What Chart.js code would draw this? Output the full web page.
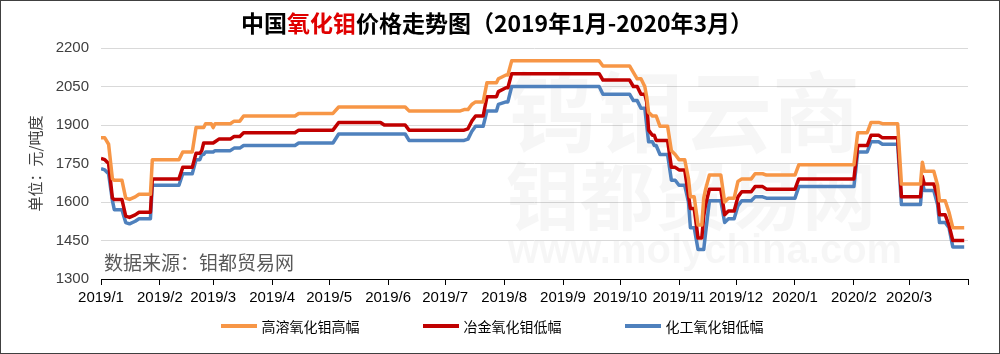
<!DOCTYPE html>
<html>
<head>
<meta charset="utf-8">
<script src="https://cdn.jsdelivr.net/npm/chart.js@4/dist/chart.umd.min.js"></script>
<style>
  html, body { margin: 0; padding: 0; background: #fff; }
  #wrap { position: relative; width: 1000px; height: 354px; overflow: hidden; font-family: "Noto Sans CJK SC", sans-serif; }
  #chart { position: absolute; left: 0; top: 0; }
  #frame { position: absolute; left: 0; top: 0; right: 0; bottom: 0; border: 1px solid #404040; pointer-events: none; }
  #title { position: absolute; left: 0; top: 5px; width: 994px; text-align: center; font-size: 23px; font-weight: bold; color: #000; line-height: 34px; }
  #title span { color: #e00000; }
  #source { position: absolute; left: 104px; top: 249px; font-size: 19px; line-height: 26px; color: #595959; }
  #legend { position: absolute; left: 0; top: 314px; width: 984px; display: flex; justify-content: center; gap: 63px; font-size: 14px; line-height: 24px; color: #000; }
  .item { display: flex; align-items: center; }
  .item i { display: inline-block; width: 36px; height: 4px; margin-right: 5px; }
</style>
</head>
<body>
<div id="wrap">
  <canvas id="chart" width="1000" height="354"></canvas>
  <div id="title">中国<span>氧化钼</span>价格走势图（2019年1月-2020年3月）</div>
  <div id="source">数据来源：钼都贸易网</div>
  <div id="legend"></div>
  <div id="frame"></div>
</div>
<script>
// 日期（变动点）
const dates = [
  '2019-01-01','2019-01-03','2019-01-05','2019-01-07','2019-01-08','2019-01-12','2019-01-14','2019-01-16','2019-01-19','2019-01-21',
  '2019-01-27','2019-01-28','2019-02-11','2019-02-13','2019-02-18','2019-02-20','2019-02-22','2019-02-23','2019-02-24','2019-02-25',
  '2019-02-28','2019-03-01','2019-03-02','2019-03-04','2019-03-10','2019-03-12','2019-03-15','2019-03-17','2019-04-13','2019-04-15',
  '2019-05-03','2019-05-06','2019-05-28','2019-05-30','2019-06-10','2019-06-12','2019-07-09','2019-07-11','2019-07-13','2019-07-15',
  '2019-07-17','2019-07-21','2019-07-23','2019-07-28','2019-07-29','2019-08-02','2019-08-03','2019-08-05','2019-09-20','2019-09-22',
  '2019-10-06','2019-10-08','2019-10-10','2019-10-12','2019-10-14','2019-10-15','2019-10-16','2019-10-18','2019-10-19','2019-10-20',
  '2019-10-22','2019-10-26','2019-10-28','2019-10-30','2019-11-01','2019-11-04','2019-11-06','2019-11-07','2019-11-09','2019-11-11',
  '2019-11-13','2019-11-14','2019-11-15','2019-11-17','2019-11-23','2019-11-25','2019-11-27','2019-11-30','2019-12-02','2019-12-04',
  '2019-12-09','2019-12-11','2019-12-15','2019-12-17','2020-01-01','2020-01-03','2020-02-01','2020-02-03','2020-02-08','2020-02-10',
  '2020-02-14','2020-02-16','2020-02-24','2020-02-26','2020-03-07','2020-03-08','2020-03-09','2020-03-14','2020-03-16','2020-03-17',
  '2020-03-20','2020-03-22','2020-03-24','2020-03-30'
];

// 高溶氧化钼高幅
const highSolubility = [
  1850,1850,1825,1690,1685,1685,1615,1610,1620,1630,
  1630,1765,1765,1795,1795,1890,1890,1890,1890,1905,
  1905,1890,1905,1905,1905,1915,1915,1935,1935,1945,
  1945,1970,1970,1970,1970,1955,1955,1960,1960,1980,
  1990,1990,2065,2065,2080,2095,2095,2150,2150,2130,
  2130,2105,2080,2080,2050,2010,1950,1935,1935,1935,
  1895,1895,1800,1785,1765,1765,1690,1620,1620,1510,
  1510,1615,1650,1705,1705,1600,1615,1615,1680,1690,
  1690,1710,1710,1705,1705,1745,1745,1870,1870,1910,
  1910,1905,1905,1670,1670,1755,1720,1720,1665,1605,
  1605,1560,1500,1500
];

// 冶金氧化钼低幅
const metallurgical = [
  1770,1765,1750,1615,1610,1610,1545,1540,1550,1560,
  1560,1690,1690,1735,1735,1790,1790,1800,1830,1830,
  1830,1830,1835,1845,1845,1855,1855,1870,1870,1880,
  1880,1910,1910,1900,1900,1880,1880,1880,1885,1915,
  1935,1935,2010,2010,2030,2045,2045,2100,2100,2075,
  2075,2050,2050,2020,2020,1990,1880,1860,1860,1840,
  1840,1840,1735,1735,1725,1725,1625,1575,1575,1460,
  1460,1545,1590,1650,1650,1550,1565,1565,1620,1640,
  1640,1660,1660,1650,1650,1690,1690,1820,1820,1860,
  1860,1850,1850,1620,1620,1700,1670,1670,1620,1550,
  1550,1510,1450,1450
];

// 化工氧化钼低幅
const chemical = [
  1730,1725,1710,1605,1570,1570,1520,1515,1525,1535,
  1535,1665,1665,1710,1710,1765,1765,1785,1785,1795,
  1795,1795,1800,1800,1800,1810,1810,1820,1820,1830,
  1830,1865,1865,1865,1865,1840,1840,1840,1845,1875,
  1895,1895,1955,1955,1980,1990,1990,2050,2050,2020,
  2020,1995,1995,1965,1965,1900,1835,1835,1820,1820,
  1785,1785,1685,1685,1665,1665,1600,1500,1500,1415,
  1415,1415,1480,1605,1605,1520,1535,1535,1585,1605,
  1605,1620,1620,1615,1615,1660,1660,1795,1795,1835,
  1835,1825,1825,1590,1590,1675,1645,1645,1590,1520,
  1520,1500,1425,1425
];

const monthStarts = [
  '2019-01-01','2019-02-01','2019-03-01','2019-04-01','2019-05-01','2019-06-01','2019-07-01','2019-08-01',
  '2019-09-01','2019-10-01','2019-11-01','2019-12-01','2020-01-01','2020-02-01','2020-03-01','2020-04-01'
];
const monthLabels = [
  '2019/1','2019/2','2019/3','2019/4','2019/5','2019/6','2019/7','2019/8',
  '2019/9','2019/10','2019/11','2019/12','2020/1','2020/2','2020/3',''
];

const seriesNames = ['高溶氧化钼高幅', '冶金氧化钼低幅', '化工氧化钼低幅'];
const seriesColors = ['#F79646', '#C00000', '#4F81BD'];

function dayOf(s) {
  const p = s.split('-').map(Number);
  return (Date.UTC(p[0], p[1] - 1, p[2]) - Date.UTC(2019, 0, 1)) / 86400000;
}
const xs = dates.map(dayOf);
const tickDays = monthStarts.map(dayOf);
const toPoints = arr => arr.map((v, i) => ({ x: xs[i], y: v }));

// 背景水印
const watermark = {
  id: 'watermark',
  beforeDatasetsDraw(chart) {
    const ctx = chart.ctx;
    ctx.save();
    ctx.fillStyle = 'rgba(0,0,0,0.035)';
    ctx.textBaseline = 'middle';
    ctx.font = 'bold 88px "Noto Sans CJK SC"';
    ctx.fillText('钨钼云商', 508, 112);
    ctx.font = 'bold 74px "Noto Sans CJK SC"';
    ctx.fillText('钼都贸易网', 506, 196);
    ctx.font = 'bold 40px "Liberation Sans"';
    ctx.fillText('www.molychina.com', 508, 252);
    ctx.restore();
  }
};

new Chart(document.getElementById('chart').getContext('2d'), {
  type: 'line',
  data: {
    datasets: [
      { label: seriesNames[0], data: toPoints(highSolubility), borderColor: seriesColors[0], backgroundColor: seriesColors[0] },
      { label: seriesNames[1], data: toPoints(metallurgical), borderColor: seriesColors[1], backgroundColor: seriesColors[1] },
      { label: seriesNames[2], data: toPoints(chemical), borderColor: seriesColors[2], backgroundColor: seriesColors[2] }
    ]
  },
  options: {
    responsive: false,
    animation: false,
    layout: { padding: { left: 22, right: 32, top: 48, bottom: 45 } },
    elements: {
      line: { borderWidth: 3.5, tension: 0, borderJoinStyle: 'round' },
      point: { radius: 0 }
    },
    plugins: {
      legend: { display: false },
      tooltip: { enabled: false }
    },
    scales: {
      x: {
        type: 'linear',
        min: 0,
        max: tickDays[tickDays.length - 1],
        afterBuildTicks: scale => { scale.ticks = tickDays.map(v => ({ value: v })); },
        afterFit: scale => { scale.height = 30; },
        grid: { drawOnChartArea: false, tickLength: 6, tickColor: '#000' },
        border: { color: '#000', width: 1 },
        ticks: {
          autoSkip: false,
          maxRotation: 0,
          minRotation: 0,
          padding: 4,
          color: '#000',
          font: { family: '"Liberation Sans"', size: 15 },
          callback: value => monthLabels[tickDays.indexOf(value)]
        }
      },
      y: {
        min: 1300,
        max: 2200,
        afterFit: scale => { scale.width = 79; },
        grid: { color: '#d9d9d9', drawTicks: false },
        border: { display: false },
        ticks: {
          stepSize: 150,
          padding: 12,
          color: '#404040',
          font: { family: '"Liberation Sans"', size: 15 },
          callback: value => String(value)
        },
        title: {
          display: true,
          text: '单位：元/吨度',
          color: '#404040',
          font: { family: '"Noto Sans CJK SC"', size: 15 }
        }
      }
    }
  },
  plugins: [watermark]
});

// 图例
const legend = document.getElementById('legend');
seriesNames.forEach((name, i) => {
  const item = document.createElement('div');
  item.className = 'item';
  item.innerHTML = '<i style="background:' + seriesColors[i] + '"></i>' + name;
  legend.appendChild(item);
});
</script>
</body>
</html>
